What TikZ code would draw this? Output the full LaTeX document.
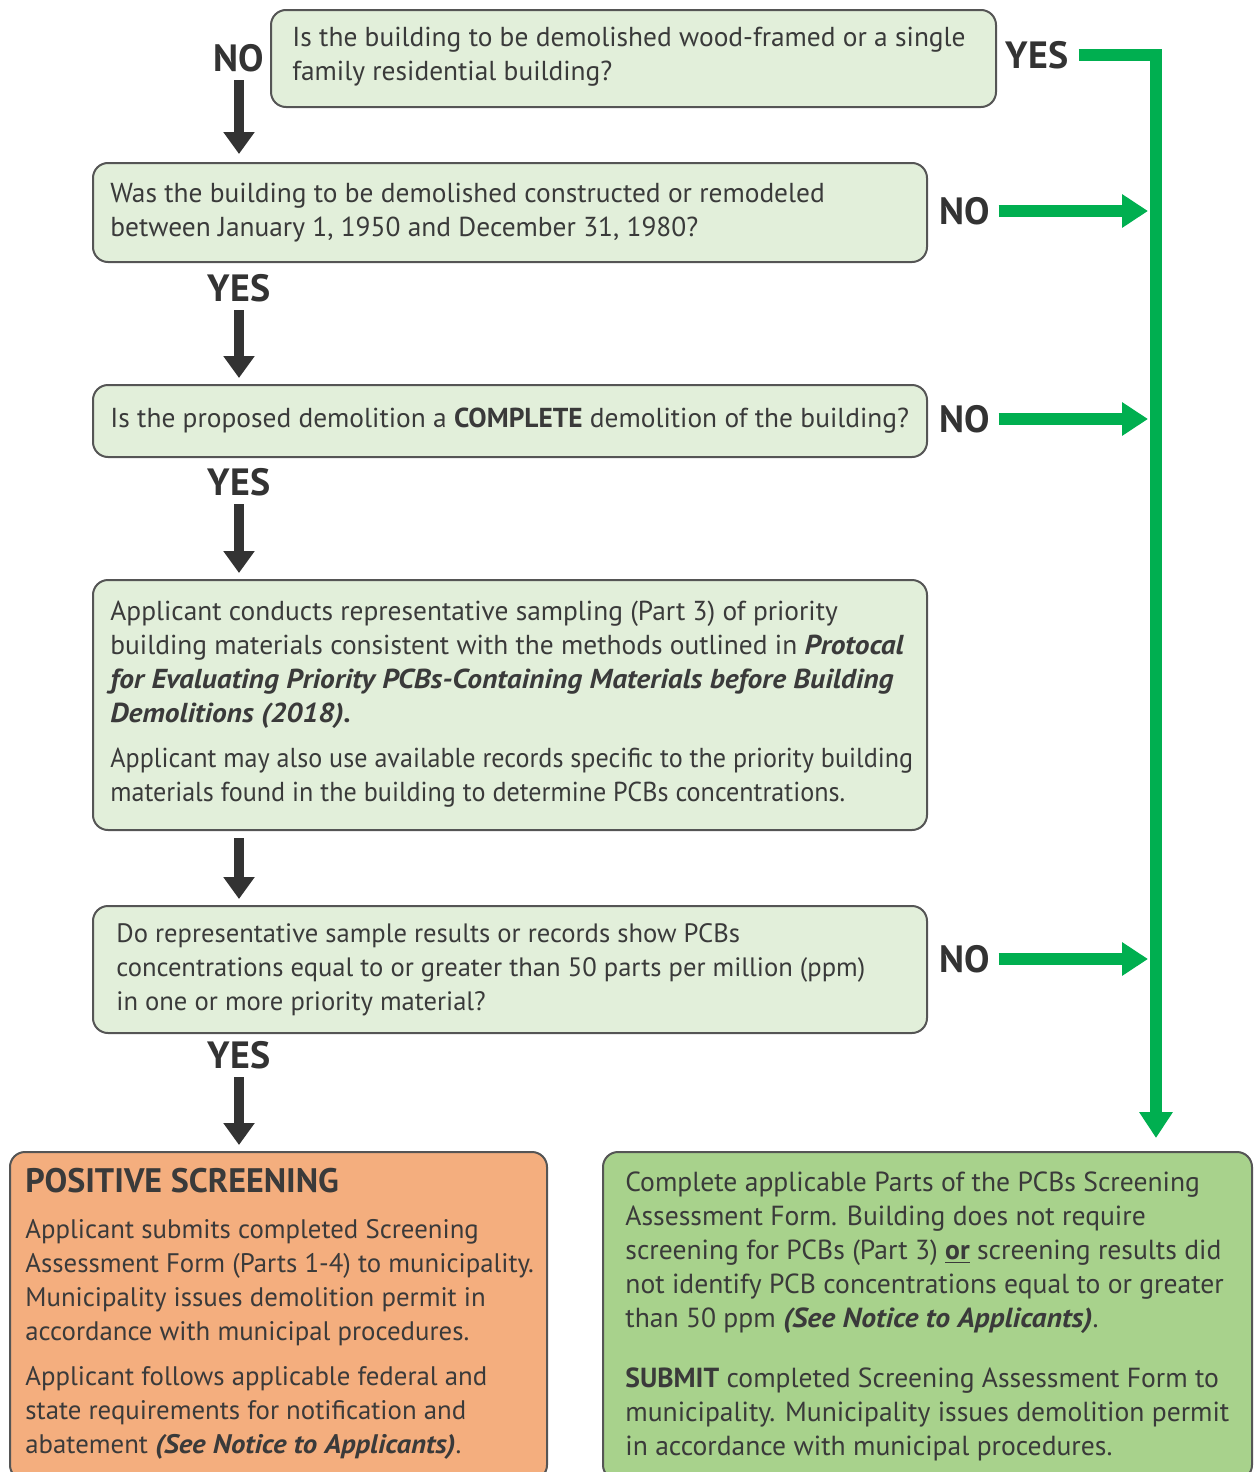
\documentclass[tikz,border=0pt]{standalone}
\usepackage{fontspec}
\setmainfont{PT Sans}
\usetikzlibrary{arrows.meta}
\definecolor{lgreen}{HTML}{E2EFDA}
\definecolor{borderc}{HTML}{555555}
\definecolor{txtc}{HTML}{3A3A3A}
\definecolor{orangef}{HTML}{F4AE7E}
\definecolor{greenf}{HTML}{A8D28C}
\definecolor{arrowg}{HTML}{00AF50}
\definecolor{arrowk}{HTML}{333333}
\newcommand\bitext[1]{\scalebox{1.075}[1]{\textbf{\textit{#1}}}}
\newcommand\narrowline[1]{\scalebox{0.953}[1]{#1}}
\begin{document}
\begin{tikzpicture}[x=0.5pt,y=-0.5pt,
 box/.style={draw=borderc, line width=1pt, rounded corners=7.5pt, fill=lgreen, inner sep=0pt},
 txt/.style={anchor=west, inner sep=0pt, align=left, text=txtc, font=\fontsize{13.7}{17}\selectfont},
 lbl/.style={inner sep=0pt, text=arrowk, font=\fontsize{19}{20}\bfseries\selectfont},
 karrow/.style={draw=arrowk, line width=5pt, -{Triangle[width=15pt,length=11pt]}},
 garrow/.style={draw=arrowg, line width=6pt, line join=miter, -{Triangle[width=16pt,length=13pt]}}]
\clip (0,0) rectangle (1254,1472);

% boxes
\node[box, minimum width=362.5pt, minimum height=48.5pt] (b1) at (633.5,58.5) {};
\node[box, minimum width=417pt, minimum height=49.5pt] (b2) at (510,212.5) {};
\node[box, minimum width=417pt, minimum height=36pt] (b3) at (510,421) {};
\node[box, minimum width=417pt, minimum height=125pt] (b4) at (510,705) {};
\node[box, minimum width=417pt, minimum height=63.5pt] (b5) at (510,969.5) {};
\node[box, fill=orangef, minimum width=268.5pt, minimum height=164pt] (b6) at (278.5,1316) {};
\node[box, fill=greenf, minimum width=324.5pt, minimum height=164pt] (b7) at (927.5,1316) {};

% texts
\node[txt] (t1) at (292,57) {Is the building to be demolished wood-framed or a single\\family residential building?};
\node[txt] (t2) at (110,213) {Was the building to be demolished constructed or remodeled\\between January 1, 1950 and December 31, 1980?};
\node[txt] (t3) at (110,421) {Is the proposed demolition a \textbf{COMPLETE} demolition of the building?};
\node[txt] (t4) at (110,704) {Applicant conducts representative sampling (Part 3) of priority\\
building materials consistent with the methods outlined in \bitext{Protocal}\\
\bitext{for Evaluating Priority PCBs-Containing Materials before Building}\\
\bitext{Demolitions (2018).}\\[5.5pt]
\narrowline{Applicant may also use available records specific to the priority building}\\
\narrowline{materials found in the building to determine PCBs concentrations.}};
\node[txt, font=\fontsize{13.3}{17}\selectfont] (t5) at (116,970) {Do representative sample results or records show PCBs\\
concentrations equal to or greater than 50 parts per million (ppm)\\
in one or more priority material?};
\node[txt, font=\fontsize{13.4}{17}\selectfont] (t6) at (25,1314) {{\fontsize{17}{17}\bfseries\selectfont POSITIVE SCREENING}\\[6pt]
Applicant submits completed Screening\\
Assessment Form (Parts 1-4) to municipality.\\
Municipality issues demolition permit in\\
accordance with municipal procedures.\\[5.5pt]
Applicant follows applicable federal and\\
state requirements for notification and\\
abatement \bitext{(See Notice to Applicants)}.};
\node[txt, font=\fontsize{13.8}{17}\selectfont] (t7) at (625,1316) {Complete applicable Parts of the PCBs Screening\\
Assessment Form. Building does not require\\
screening for PCBs (Part 3) \underline{\textbf{or}} screening results did\\
not identify PCB concentrations equal to or greater\\
than 50 ppm \bitext{(See Notice to Applicants)}.\\[13pt]
\textbf{SUBMIT} completed Screening Assessment Form to\\
municipality. Municipality issues demolition permit\\
in accordance with municipal procedures.};

% labels
\node[lbl] (n1) at (239,58) {NO};
\node[lbl] (y2) at (239,288) {YES};
\node[lbl] (y3) at (239,482) {YES};
\node[lbl] (y5) at (239,1055) {YES};
\node[lbl] (y1) at (1037,55) {YES};
\node[lbl] (n2) at (965,211) {NO};
\node[lbl] (n3) at (965,419) {NO};
\node[lbl] (n5) at (965,959) {NO};

% black arrows
\draw[karrow, shorten <=4pt, shorten >=4pt] (n1.south) -- (n1.south |- b2.north);
\draw[karrow, shorten <=4pt, shorten >=3pt] (y2.south) -- (y2.south |- b3.north);
\draw[karrow, shorten <=4pt, shorten >=3pt] (y3.south) -- (y3.south |- b4.north);
\coordinate (k4) at (239,838);
\draw[karrow, shorten >=3pt] (k4) -- (k4 |- b5.north);
\draw[karrow, shorten <=4pt, shorten >=3pt] (y5.south) -- (y5.south |- b6.north);

% green arrows
\coordinate (tend) at (1156,1138);
\draw[garrow, shorten <=5pt] (y1.east) -| (tend);
\draw[garrow, shorten <=4pt, shorten >=4pt] (n2.east) -- (n2.east -| tend);
\draw[garrow, shorten <=4pt, shorten >=4pt] (n3.east) -- (n3.east -| tend);
\draw[garrow, shorten <=4pt, shorten >=4pt] (n5.east) -- (n5.east -| tend);
\end{tikzpicture}
\end{document}
